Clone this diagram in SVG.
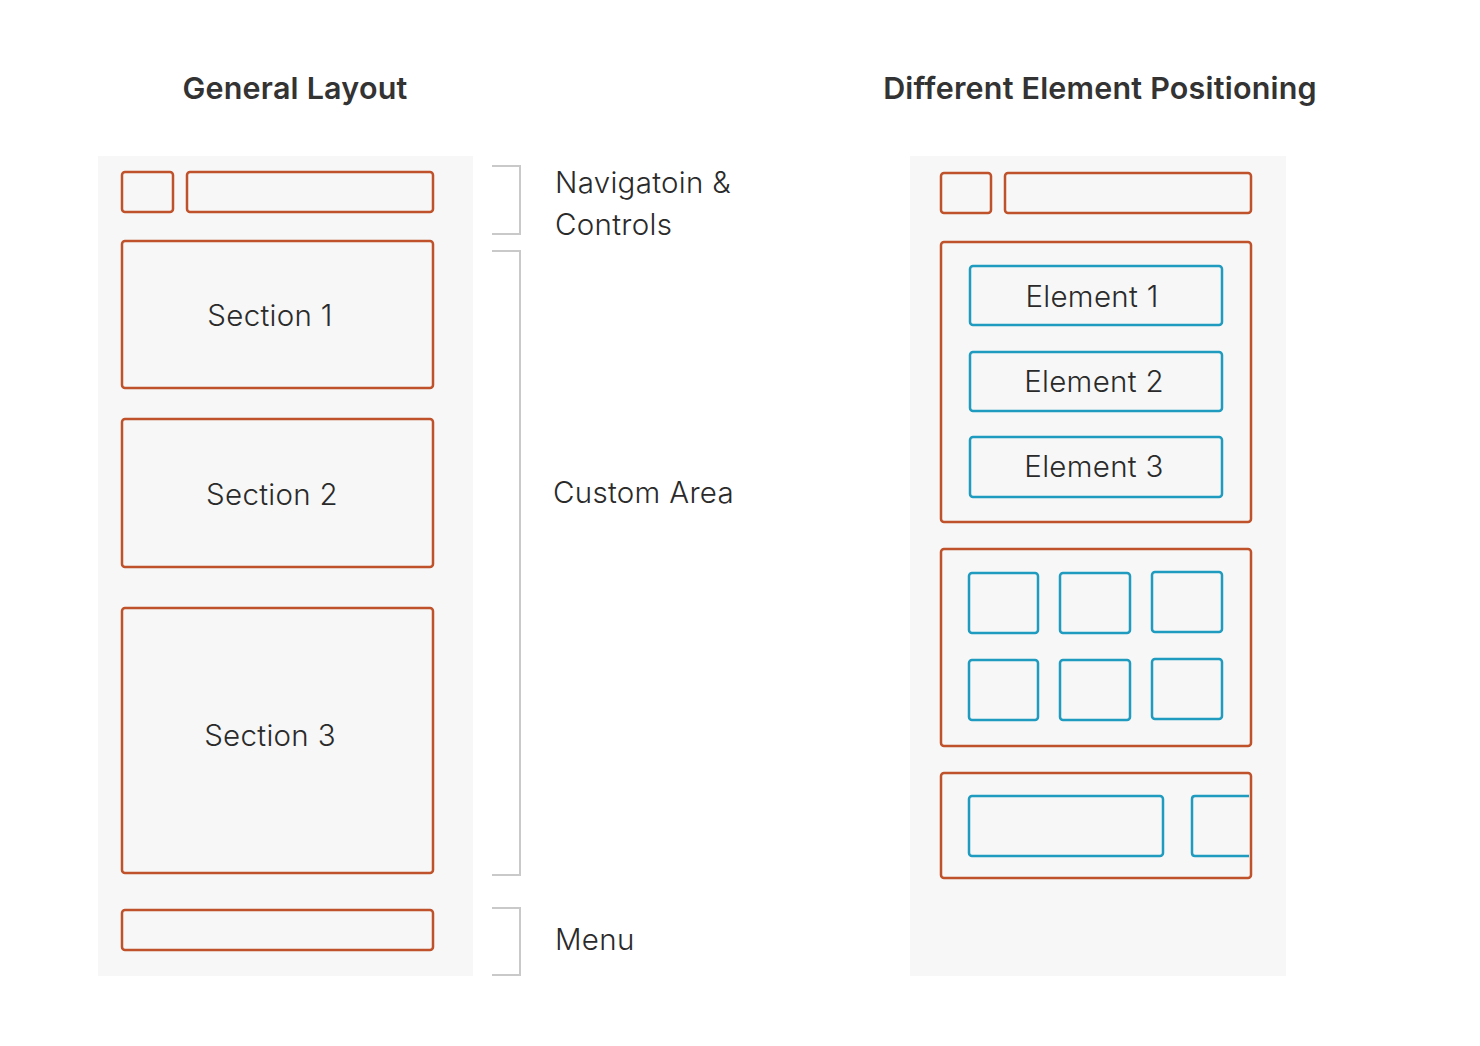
<svg xmlns="http://www.w3.org/2000/svg" width="1480" height="1046" viewBox="0 0 1480 1046">
<style>
.panel{fill:#f6f7f6}
.o{fill:none;stroke:#c0522b;stroke-width:2.5}
.b{fill:none;stroke:#1f9bc0;stroke-width:2.5}
.br{fill:none;stroke:#c9c9c9;stroke-width:2}
.t{font-family:Inter,"Liberation Sans",sans-serif;font-weight:300;font-size:29.5px;letter-spacing:0.3px;fill:#2a2a2a}
.h{font-family:Inter,"Liberation Sans",sans-serif;font-weight:600;font-size:30.5px;letter-spacing:0.2px;fill:#333}
</style>
<rect width="1480" height="1046" fill="#fff"/>
<text class="h" x="295" y="99" text-anchor="middle">General Layout</text>
<text class="h" x="1100" y="99" text-anchor="middle">Different Element Positioning</text>
<g id="left-panel">
<rect class="panel" x="98" y="156" width="375" height="820"/>
<rect class="o" x="122" y="172" width="51" height="40" rx="3"/>
<rect class="o" x="187" y="172" width="246" height="40" rx="3"/>
</g>
<g id="section1"><rect class="o" x="122" y="241" width="311" height="147" rx="3"/><text class="t" x="270" y="326" text-anchor="middle">Section 1</text></g>
<g id="section2"><rect class="o" x="122" y="419" width="311" height="148" rx="3"/><text class="t" x="272" y="505" text-anchor="middle">Section 2</text></g>
<g id="section3"><rect class="o" x="122" y="608" width="311" height="265" rx="3"/><text class="t" x="270" y="746" text-anchor="middle">Section 3</text></g>
<g id="menu-bar"><rect class="o" x="122" y="910" width="311" height="40" rx="3"/></g>
<g id="connectors">
<path class="br" d="M492 166H520V234H492"/>
<path class="br" d="M492 251H520V875H492"/>
<path class="br" d="M492 908H520V975H492"/>
</g>
<g id="labels">
<text class="t" x="555" y="193">Navigatoin &amp;</text>
<text class="t" x="555" y="235">Controls</text>
<text class="t" x="553" y="503">Custom Area</text>
<text class="t" x="555" y="950">Menu</text>
</g>
<g id="right-panel">
<rect class="panel" x="910" y="156" width="376" height="820"/>
<rect class="o" x="941" y="173" width="50" height="40" rx="3"/>
<rect class="o" x="1005" y="173" width="246" height="40" rx="3"/>
</g>
<g id="box-elements">
<rect class="o" x="941" y="242" width="310" height="280" rx="3"/>
<g id="element1"><rect class="b" x="970" y="266" width="252" height="59" rx="3"/><text class="t" x="1092" y="307" text-anchor="middle">Element 1</text></g>
<g id="element2"><rect class="b" x="970" y="352" width="252" height="59" rx="3"/><text class="t" x="1094" y="392" text-anchor="middle">Element 2</text></g>
<g id="element3"><rect class="b" x="970" y="437" width="252" height="60" rx="3"/><text class="t" x="1094" y="477" text-anchor="middle">Element 3</text></g>
</g>
<g id="box-grid">
<rect class="o" x="941" y="549" width="310" height="197" rx="3"/>
<rect class="b" x="969" y="573" width="69" height="60" rx="3"/>
<rect class="b" x="1060" y="573" width="70" height="60" rx="3"/>
<rect class="b" x="1152" y="572" width="70" height="60" rx="3"/>
<rect class="b" x="969" y="660" width="69" height="60" rx="3"/>
<rect class="b" x="1060" y="660" width="70" height="60" rx="3"/>
<rect class="b" x="1152" y="659" width="70" height="60" rx="3"/>
</g>
<g id="box-row">
<rect class="o" x="941" y="773" width="310" height="105" rx="3"/>
<rect class="b" x="969" y="796" width="194" height="60" rx="3"/>
<path class="b" d="M1249 796H1195Q1192 796 1192 799V853Q1192 856 1195 856H1249"/>
</g>
</svg>
